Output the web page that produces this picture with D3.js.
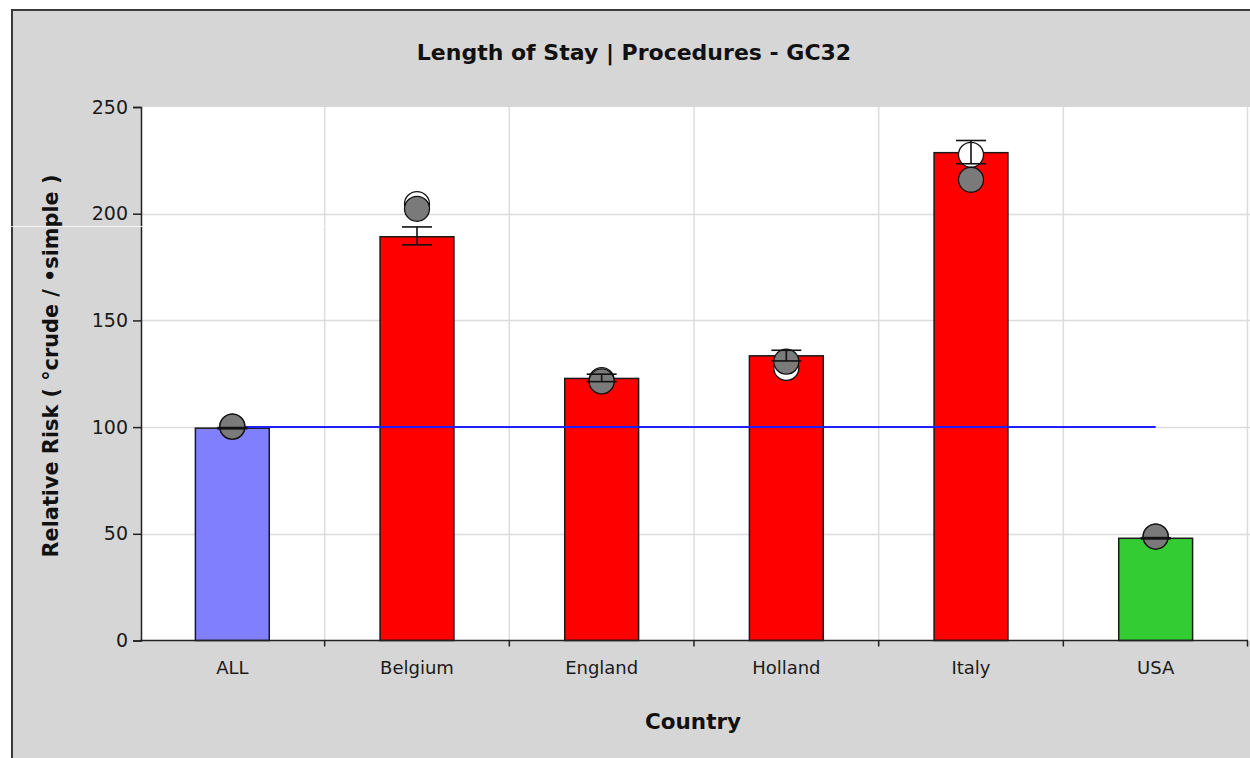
<!DOCTYPE html>
<html>
<head>
<meta charset="utf-8">
<script src="https://cdn.jsdelivr.net/npm/d3@7"></script>
<style>
  html, body { margin: 0; padding: 0; background: #ffffff; }
  svg { display: block; }
</style>
</head>
<body>
<svg id="chart" width="1250" height="758"></svg>
<script>
// ---- Data ----
const categories = ["ALL", "Belgium", "England", "Holland", "Italy", "USA"];
const relativeRisk = [99.5, 189.2, 122.8, 133.4, 228.6, 47.9];
const lowerCI = [99.2, 185.4, 121.3, 131.0, 223.4, 47.6];
const upperCI = [99.8, 193.8, 124.8, 136.0, 234.3, 48.2];
const crudeRR = [100.2, 204.5, 122.0, 127.7, 227.6, 48.7];
const simpleRR = [100.2, 202.3, 121.4, 130.7, 215.9, 48.7];
const barColors = ["#8080ff", "#ff0000", "#ff0000", "#ff0000", "#ff0000", "#33cc33"];
const referenceValue = [100];
const yTicks = [0, 50, 100, 150, 200, 250];
const titleText = "Length of Stay | Procedures - GC32";
const xTitle = "Country";
const yTitle = "Relative Risk ( °crude / •simple )";

// ---- Layout ----
const W = 1250, H = 758;
const plot = { left: 141, right: 1248, top: 107, bottom: 640.5 };
const FONT = "DejaVu Sans, Verdana, sans-serif";

const svg = d3.select("#chart");

// outer background + frame
svg.append("rect").attr("x", 0).attr("y", 0).attr("width", W).attr("height", H).attr("fill", "#ffffff");
svg.append("rect").attr("x", 12).attr("y", 10).attr("width", W + 20).attr("height", H + 20)
  .attr("fill", "#d6d6d6").attr("stroke", "#3a3a3a").attr("stroke-width", 2);

// plot area
svg.append("rect").attr("x", plot.left).attr("y", plot.top)
  .attr("width", plot.right - plot.left + 4).attr("height", plot.bottom - plot.top)
  .attr("fill", "#ffffff");

const x = d3.scaleBand().domain(categories).range([plot.left - 1, plot.right]).paddingInner(0).paddingOuter(0);
const y = d3.scaleLinear().domain([0, 250]).range([plot.bottom, plot.top]);

const rows = categories.map((c, i) => ({
  c, rr: relativeRisk[i], lo: lowerCI[i], hi: upperCI[i], crude: crudeRR[i], simple: simpleRR[i], color: barColors[i]
}));

// gridlines
const grid = svg.append("g").attr("stroke", "#dcdcdc").attr("stroke-width", 1.5);
grid.selectAll("line.h").data(yTicks.filter(t => t > 0 && t < 250)).join("line")
  .attr("x1", plot.left).attr("x2", plot.right + 4)
  .attr("y1", d => Math.round(y(d)) + 0.5).attr("y2", d => Math.round(y(d)) + 0.5);
grid.selectAll("line.v").data(categories.slice(1).concat(["__end"])).join("line")
  .attr("x1", d => d === "__end" ? plot.right - 0.5 : x(d))
  .attr("x2", d => d === "__end" ? plot.right - 0.5 : x(d))
  .attr("y1", plot.top).attr("y2", plot.bottom);

// bars
const barW = x.bandwidth() * 0.4;
svg.append("g").selectAll("rect").data(rows).join("rect")
  .attr("x", d => x(d.c) + (x.bandwidth() - barW) / 2)
  .attr("y", d => y(d.rr))
  .attr("width", barW)
  .attr("height", d => y(0) - y(d.rr))
  .attr("fill", d => d.color)
  .attr("stroke", "#1a1a1a").attr("stroke-width", 1.5);

// reference line at 100
const cx = d => x(d) + x.bandwidth() / 2;
svg.append("line")
  .attr("x1", cx(categories[0])).attr("x2", cx(categories[categories.length - 1]))
  .attr("y1", y(referenceValue[0])).attr("y2", y(referenceValue[0]))
  .attr("stroke", "#2020ff").attr("stroke-width", 2);

// crude (white) and simple (grey) markers
const R = 12.5;
svg.append("g").selectAll("circle").data(rows).join("circle")
  .attr("cx", d => cx(d.c)).attr("cy", d => y(d.crude)).attr("r", R)
  .attr("fill", "#ffffff").attr("stroke", "#111").attr("stroke-width", 1.3);
svg.append("g").selectAll("circle").data(rows).join("circle")
  .attr("cx", d => cx(d.c)).attr("cy", d => y(d.simple)).attr("r", R)
  .attr("fill", "#7a7a7a").attr("stroke", "#111").attr("stroke-width", 1.3);

// error bars
const eb = svg.append("g").attr("stroke", "#111").attr("stroke-width", 1.6);
eb.selectAll("line.stem").data(rows).join("line")
  .attr("x1", d => cx(d.c)).attr("x2", d => cx(d.c))
  .attr("y1", d => y(d.lo)).attr("y2", d => y(d.hi));
eb.selectAll("line.capHi").data(rows).join("line")
  .attr("x1", d => cx(d.c) - 15).attr("x2", d => cx(d.c) + 15)
  .attr("y1", d => y(d.hi)).attr("y2", d => y(d.hi));
eb.selectAll("line.capLo").data(rows).join("line")
  .attr("x1", d => cx(d.c) - 15).attr("x2", d => cx(d.c) + 15)
  .attr("y1", d => y(d.lo)).attr("y2", d => y(d.lo));

// axes
const yAxis = d3.axisLeft(y).tickValues(yTicks).tickSize(8).tickPadding(5);
const gy = svg.append("g").attr("transform", `translate(${plot.left},0)`).call(yAxis);
gy.select(".domain").attr("stroke", "#222").attr("stroke-width", 1.5);
gy.selectAll(".tick line").attr("stroke", "#222").attr("stroke-width", 1.5);
gy.selectAll("text").attr("font-family", FONT)
  .attr("font-size", 19).attr("fill", "#1a1a1a");

const xAxis = d3.axisBottom(x).tickSize(0).tickPadding(21);
const gx = svg.append("g").attr("transform", `translate(0,${plot.bottom})`).call(xAxis);
gx.select(".domain").remove();
gx.selectAll("text").attr("font-family", FONT)
  .attr("font-size", 18).attr("fill", "#1a1a1a");
// axis baseline and boundary ticks
svg.append("line").attr("x1", plot.left - 1).attr("x2", plot.right)
  .attr("y1", plot.bottom).attr("y2", plot.bottom).attr("stroke", "#222").attr("stroke-width", 1.5);
svg.append("g").selectAll("line").data(categories.slice(1).concat(["__end"])).join("line")
  .attr("x1", d => d === "__end" ? plot.right - 0.5 : x(d))
  .attr("x2", d => d === "__end" ? plot.right - 0.5 : x(d))
  .attr("y1", plot.bottom).attr("y2", plot.bottom + 6)
  .attr("stroke", "#222").attr("stroke-width", 1.5);

// titles
svg.append("text").attr("x", 634).attr("y", 60).attr("text-anchor", "middle")
  .attr("font-family", FONT).attr("font-weight", "bold")
  .attr("font-size", 22).attr("fill", "#111").text(titleText);
svg.append("text").attr("x", 693).attr("y", 729).attr("text-anchor", "middle")
  .attr("font-family", FONT).attr("font-weight", "bold")
  .attr("font-size", 21.5).attr("fill", "#111").text(xTitle);
svg.append("text").attr("transform", "translate(58,366) rotate(-90)").attr("text-anchor", "middle")
  .attr("font-family", FONT).attr("font-weight", "bold")
  .attr("font-size", 20.8).attr("fill", "#111").text(yTitle);

// thin white scan artefact visible in the reference
svg.append("line").attr("x1", 0).attr("x2", 325).attr("y1", 226.5).attr("y2", 226.5)
  .attr("stroke", "#ffffff").attr("stroke-width", 1).attr("opacity", 0.8);
</script>
</body>
</html>
